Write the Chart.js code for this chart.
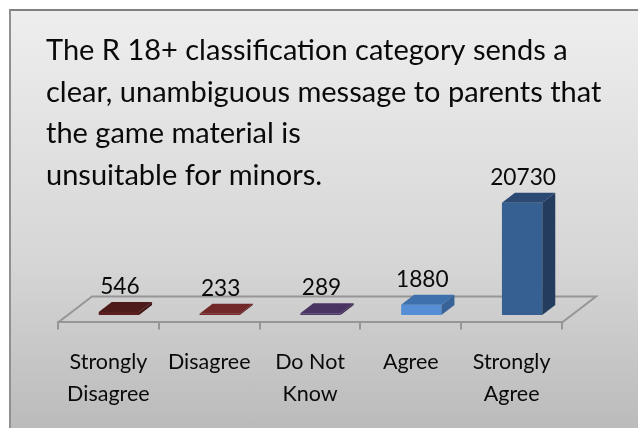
<!DOCTYPE html>
<html>

<head>
    <title>R 18+ classification</title>
    <style type="text/css">
        html, body {
            margin: 0;
            background: #ffffff;
            overflow: hidden;
        }

        #chart-container {
            position: absolute;
            left: 9px;
            top: 9px;
            width: 629px;
            height: 419px;
            box-sizing: border-box;
            border-left: 2px solid #909090;
            border-top: 2px solid #808080;
            background: linear-gradient(#eeeeee 0%, #d6d6d6 60%, #bbbbbb 100%);
        }

        #graphCanvas {
            position: absolute;
            left: -11px;
            top: -11px;
        }
    </style>
    <script src="https://cdn.jsdelivr.net/npm/chart.js@4/dist/chart.umd.min.js"></script>
</head>

<body>
    <div id="chart-container">
        <canvas id="graphCanvas" width="638" height="428"></canvas>
    </div>

    <script>
        var titleLines = [
            'The R 18+ classification category sends a',
            'clear, unambiguous message to parents that',
            'the game material is',
            'unsuitable for minors.'
        ];
        var categories = [
            ['Strongly', 'Disagree'],
            'Disagree',
            ['Do Not', 'Know'],
            'Agree',
            ['Strongly', 'Agree']
        ];
        var responses = [546, 233, 289, 1880, 20730];
        var frontColors = ['#5c1f1f', '#772a2a', '#4f3a6b', '#558ed5', '#366092'];
        var topColors = ['#4f1a1a', '#722828', '#4a3562', '#3f70ae', '#2a4a73'];
        var sideColors = ['#421616', '#5c2020', '#3c2b50', '#386398', '#243d5e'];

        // the library has no 3d bars, so shift the bars back onto the floor and add the faces
        var shiftX = 10.5, shiftY = -7.5, depthX = 13, depthY = -10;

        var floor3d = {
            id: 'floor3d',
            beforeDatasetsDraw: function (chart) {
                var a = chart.chartArea, ctx = chart.ctx;
                ctx.save();
                ctx.strokeStyle = '#969696';
                ctx.lineWidth = 2;
                ctx.beginPath();
                ctx.moveTo(a.left, a.bottom);
                ctx.lineTo(a.left + 34, a.bottom - 26);
                ctx.lineTo(a.right + 34, a.bottom - 26);
                ctx.lineTo(a.right, a.bottom);
                ctx.stroke();
                ctx.restore();
            },
            beforeDatasetDraw: function (chart) {
                chart.ctx.save();
                chart.ctx.translate(shiftX, shiftY);
            },
            afterDatasetDraw: function (chart) {
                var ctx = chart.ctx;
                chart.getDatasetMeta(0).data.forEach(function (bar, i) {
                    var left = bar.x - bar.width / 2, right = bar.x + bar.width / 2;
                    ctx.fillStyle = topColors[i];
                    ctx.beginPath();
                    ctx.moveTo(left, bar.y);
                    ctx.lineTo(left + depthX, bar.y + depthY);
                    ctx.lineTo(right + depthX, bar.y + depthY);
                    ctx.lineTo(right, bar.y);
                    ctx.closePath();
                    ctx.fill();
                    ctx.fillStyle = sideColors[i];
                    ctx.beginPath();
                    ctx.moveTo(right, bar.y);
                    ctx.lineTo(right + depthX, bar.y + depthY);
                    ctx.lineTo(right + depthX, bar.base + depthY);
                    ctx.lineTo(right, bar.base);
                    ctx.closePath();
                    ctx.fill();
                });
                ctx.restore();
                // value labels
                ctx.save();
                ctx.fillStyle = '#0a0a0a';
                ctx.font = '22.7px Lato';
                ctx.textAlign = 'center';
                ctx.textBaseline = 'alphabetic';
                chart.getDatasetMeta(0).data.forEach(function (bar, i) {
                    ctx.fillText(String(responses[i]), bar.x + shiftX + 1, bar.y + shiftY + depthY - 8);
                });
                ctx.restore();
            }
        };

        new Chart(document.getElementById('graphCanvas'), {
            type: 'bar',
            data: {
                labels: categories,
                datasets: [{
                    data: responses,
                    backgroundColor: frontColors,
                    barPercentage: 0.8,
                    categoryPercentage: 0.5
                }]
            },
            options: {
                responsive: false,
                animation: false,
                layout: { padding: { left: 46, right: 10, top: 0, bottom: 1.5 } },
                plugins: {
                    legend: { display: false },
                    tooltip: { enabled: false },
                    title: {
                        display: true,
                        text: titleLines,
                        align: 'start',
                        color: '#0a0a0a',
                        font: { family: 'Lato', size: 29, weight: 'normal', lineHeight: 1.434 },
                        padding: { top: 30, bottom: 0 }
                    }
                },
                scales: {
                    x: {
                        border: { color: '#969696', width: 2 },
                        grid: { drawOnChartArea: false, color: '#969696', lineWidth: 2, tickLength: 7 },
                        ticks: {
                            color: '#0a0a0a',
                            maxRotation: 0,
                            padding: 16.5,
                            font: { family: 'Lato', size: 21.5, lineHeight: 1.49 }
                        }
                    },
                    y: {
                        min: 0,
                        max: 23280,
                        ticks: { display: false },
                        grid: { display: false },
                        border: { display: false },
                        afterFit: function (scale) { scale.width = 12; }
                    },
                    // empty axis, only keeps the floor clear of the right edge
                    yRight: {
                        position: 'right',
                        ticks: { display: false },
                        grid: { display: false },
                        border: { display: false },
                        afterFit: function (scale) { scale.width = 66; }
                    }
                }
            },
            plugins: [floor3d]
        });
    </script>

</body>

</html>
